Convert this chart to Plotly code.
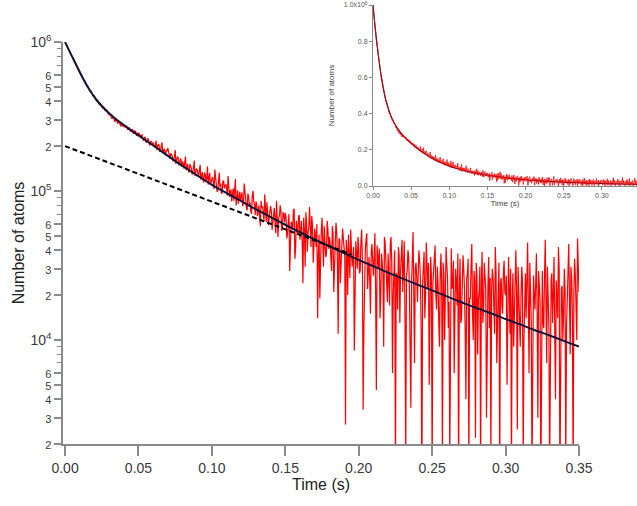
import plotly.graph_objects as go

# ---- data (atoms in thousands) ----
# samples on the whole-millisecond grid: t = 0.000, 0.001, ... 0.350 s
atoms_ms_thousands = [
    998, 958, 902, 873, 822, 797, 749, 726, 681, 662,
    635, 594, 583, 546, 538, 503, 495, 466, 461, 436,
    433, 409, 407, 385, 386, 366, 368, 350, 351, 335,
    322, 318, 305, 312, 291, 296, 283, 290, 271, 276,
    279, 266, 270, 258, 263, 249, 257, 244, 251, 236,
    241, 229, 236, 221, 227, 214, 222, 218, 205, 213,
    210, 197, 218, 199, 203, 186, 212, 190, 183, 189,
    194, 168, 179, 171, 162, 188, 163, 168, 151, 162,
    158, 141, 170, 149, 136, 151, 142, 133, 160, 139,
    139, 124, 150, 131, 118, 133, 116, 146, 123, 110,
    121, 107, 139, 114, 101, 133, 112, 97, 116, 108,
    104, 126, 91, 102, 99, 86, 120, 95, 82, 99,
    95, 79, 112, 88, 74, 92, 84, 70, 100, 81,
    85, 68, 80, 58, 77, 71, 95, 62, 74, 66,
    79, 55, 71, 63, 86, 49, 68, 74, 57, 70,
    71, 48, 64, 29, 62, 55, 76, 41, 58, 67,
    47, 63, 24, 55, 72, 39, 57, 50, 68, 33,
    56, 42, 14, 51, 47, 66, 31, 49, 38, 55,
    49, 36, 58, 21, 44, 53, 11, 47, 39, 56,
    44, 2.7, 40, 51, 26, 43, 35, 8.5, 46, 30,
    41, 29, 55, 3.4, 38, 47, 22, 36, 15, 44,
    27, 52, 4.6, 35, 41, 19, 33, 9, 45, 24,
    38, 17, 49, 6, 31, 1.2, 27, 42, 13, 35,
    21, 46, 1.5, 29, 37, 11, 24, 53, 7, 33,
    18, 40, 26, 0.8, 31, 14, 45, 22, 5, 36,
    1.1, 29, 43, 16, 24, 9, 38, 1.4, 27, 19,
    32, 12, 1.6, 41, 23, 6, 30, 17, 1.0, 35,
    14, 37, 22, 4, 28, 1.3, 19, 44, 10, 25,
    33, 8, 21, 1.2, 39, 16, 27, 3, 24, 12,
    1.5, 30, 18, 42, 7, 22, 1.1, 26, 15, 34,
    20, 5, 36, 11, 1.3, 28, 17, 40, 2.5, 19,
    9, 31, 1.4, 24, 14, 45, 6, 21, 1.2, 27,
    16, 38, 3, 23, 1.0, 29, 12, 47, 7, 20,
    1.3, 25, 13, 36, 4, 18, 42, 1.1, 22, 10,
    30, 1.5, 17, 44, 8, 26, 1.2, 35, 14, 48,
    21,
]
# samples on the half-millisecond grid: t = 0.0005, 0.0015, ... 0.3495 s
atoms_half_ms_thousands = [
    972, 936, 883, 852, 803, 779, 731, 710, 666, 647,
    609, 595, 558, 549, 514, 505, 476, 470, 443, 438,
    425, 402, 401, 380, 381, 361, 364, 346, 347, 331,
    331, 312, 317, 299, 306, 288, 294, 279, 286, 270,
    268, 275, 259, 267, 252, 260, 243, 253, 238, 246,
    244, 226, 238, 219, 231, 211, 225, 204, 216, 209,
    206, 201, 189, 205, 183, 197, 179, 192, 174, 185,
    184, 164, 175, 158, 170, 152, 169, 149, 165, 146,
    153, 150, 138, 152, 133, 146, 129, 144, 126, 141,
    126, 138, 119, 134, 114, 129, 121, 110, 132, 117,
    124, 103, 118, 99, 121, 106, 96, 117, 104, 111,
    93, 108, 100, 85, 104, 97, 80, 101, 93, 86,
    98, 83, 91, 77, 96, 80, 73, 93, 85, 69,
    82, 73, 66, 86, 79, 63, 76, 84, 59, 75,
    73, 61, 77, 52, 69, 66, 80, 54, 72, 62,
    66, 52, 70, 44, 60, 74, 35, 63, 51, 69,
    58, 44, 66, 31, 61, 53, 78, 42, 59, 46,
    51, 60, 37, 19, 54, 44, 58, 36, 63, 41,
    45, 29, 52, 40, 61, 33, 48, 24, 43, 50,
    36, 47, 20, 39, 55, 31, 42, 17, 38, 49,
    28, 46, 33, 12, 41, 52, 30, 25, 39, 34,
    36, 21, 43, 30, 14, 38, 27, 49, 31, 18,
    25, 44, 33, 20, 40, 28, 16, 37, 29, 47,
    32, 14, 27, 40, 22, 3.5, 35, 19, 30, 26,
    28, 34, 12, 24, 39, 20, 30, 33, 17, 27,
    24, 35, 20, 31, 13, 28, 22, 33, 10, 42,
    26, 18, 29, 22, 34, 15, 25, 38, 21, 13,
    23, 30, 11, 26, 35, 19, 32, 15, 29, 2.2,
    27, 19, 31, 24, 13, 33, 22, 18, 36, 26,
    22, 26, 11, 29, 20, 33, 24, 17, 28, 21,
    27, 14, 23, 30, 18, 9, 25, 21, 31, 15,
    19, 25, 10, 28, 22, 17, 33, 13, 24, 20,
    24, 15, 29, 18, 21, 13, 26, 19, 31, 12,
    17, 28, 20, 11, 25, 14, 30, 19, 23, 15,
    22, 12, 26, 19, 31, 15, 21, 27, 10, 24,
]
sample_step_s = 0.001

time_s = []
atoms = []
for i, v in enumerate(atoms_ms_thousands):
    time_s.append(round(i * sample_step_s, 4))
    atoms.append(v * 1000)
    if i < len(atoms_half_ms_thousands):
        time_s.append(round((i + 0.5) * sample_step_s, 4))
        atoms.append(atoms_half_ms_thousands[i] * 1000)

# ---- fit curve ----
fit_time_s = [0, 0.0025, 0.005, 0.0075, 0.01, 0.0125, 0.015, 0.0175, 0.02, 0.0225,
              0.025, 0.0275, 0.03, 0.035, 0.04, 0.045, 0.05, 0.06, 0.07, 0.08,
              0.09, 0.10, 0.11, 0.12, 0.13, 0.14, 0.15, 0.16, 0.17, 0.18,
              0.19, 0.20, 0.21, 0.22, 0.23, 0.24, 0.25, 0.26, 0.27, 0.28,
              0.29, 0.30, 0.31, 0.32, 0.33, 0.34, 0.35]
fit_atoms = [1000000, 889000, 791000, 703000, 627000, 562000, 508000, 463000, 427000, 396000,
             372000, 351000, 333000, 302000, 277000, 255000, 236000, 202000, 172000, 147000,
             127000, 110000, 96800, 85300, 75300, 66700, 59300, 52800, 47300, 42500,
             38200, 34400, 31200, 28300, 25800, 23500, 21500, 19600, 17900, 16400,
             15100, 13800, 12700, 11600, 10700, 9820, 9020]

# ---- dashed line (slow component) ----
dash_time_s = [0.0, 0.195]
dash_atoms = [200000, 37500]

# ---- tick labels ----
decades = [1e3, 1e4, 1e5, 1e6]
y_major_vals = []
y_major_text = []
y_minor_vals = []
for d in decades:
    for m in [2, 3, 4, 5, 6]:
        if 2000 <= m * d <= 1e6:
            y_major_vals.append(m * d)
            y_major_text.append('<span style="font-size:11px">%d</span>' % m)
    for m in [7, 8, 9]:
        if 2000 <= m * d <= 1e6:
            y_minor_vals.append(m * d)
for d, e in [(1e4, 4), (1e5, 5), (1e6, 6)]:
    y_major_vals.append(d)
    y_major_text.append('10<sup>%d</sup>' % e)

x_ticks = [0.00, 0.05, 0.10, 0.15, 0.20, 0.25, 0.30, 0.35]
x_tick_text = ['%.2f' % v for v in x_ticks]

inset_y_ticks = [0, 200000, 400000, 600000, 800000, 1000000]
inset_y_text = ['0.0', '0.2', '0.4', '0.6', '0.8', '1.0x10<sup>6</sup>']

RED = '#ff0000'
FIT = '#14143c'
AXIS = '#8a8a8a'
TXT = '#3a3a3a'

fig = go.Figure()

# main plot
fig.add_trace(go.Scatter(x=time_s, y=atoms, mode='lines',
                         line=dict(color=RED, width=1.2), xaxis='x', yaxis='y'))
fig.add_trace(go.Scatter(x=fit_time_s, y=fit_atoms, mode='lines',
                         line=dict(color=FIT, width=2, shape='spline', smoothing=0.6),
                         xaxis='x', yaxis='y'))
fig.add_trace(go.Scatter(x=dash_time_s, y=dash_atoms, mode='lines',
                         line=dict(color='black', width=2, dash='5px,3px'), xaxis='x', yaxis='y'))

# inset
fig.add_trace(go.Scatter(x=fit_time_s, y=fit_atoms, mode='lines',
                         line=dict(color=FIT, width=1.2, shape='spline', smoothing=0.6),
                         xaxis='x2', yaxis='y2'))
fig.add_trace(go.Scatter(x=time_s, y=atoms, mode='lines',
                         line=dict(color=RED, width=0.9), xaxis='x2', yaxis='y2', opacity=0.9))
# last inset tick label, partly beyond the page edge as in the reference
fig.add_trace(go.Scatter(x=[0.35], y=[0], mode='text', text=['0.35'],
                         textposition='bottom center', cliponaxis=False,
                         textfont=dict(size=7, color='#555'), xaxis='x2', yaxis='y2'))

W, H = 637, 506
main_l, main_r, main_t, main_b = 63, 579, 42, 444
ins_l, ins_r, ins_t, ins_b = 373, 637, 5, 186

fig.update_layout(
    width=W, height=H,
    margin=dict(l=0, r=0, t=0, b=0, autoexpand=False),
    paper_bgcolor='white', plot_bgcolor='rgba(0,0,0,0)',
    showlegend=False,
    font=dict(family='Liberation Sans, Arial, sans-serif', color=TXT),
    xaxis=dict(
        domain=[main_l / W, main_r / W],
        range=[-0.0014, 0.35],
        tickvals=x_ticks, ticktext=x_tick_text,
        ticks='outside', ticklen=10, tickwidth=1.5, tickcolor=AXIS,
        showline=True, linecolor=AXIS, linewidth=1.5,
        showgrid=False, zeroline=False, automargin=False,
        tickfont=dict(size=14, color=TXT),
        title=dict(text='Time (s)', font=dict(size=16, color='#222'), standoff=4),
        anchor='y',
    ),
    yaxis=dict(
        domain=[1 - main_b / H, 1 - main_t / H],
        type='log',
        range=[3.30103, 6.0],
        tickvals=y_major_vals, ticktext=y_major_text,
        ticks='outside', ticklen=7, tickwidth=1.5, tickcolor=AXIS,
        minor=dict(tickvals=y_minor_vals, ticks='outside', ticklen=4,
                   tickwidth=1.2, tickcolor=AXIS, showgrid=False),
        showline=True, linecolor=AXIS, linewidth=1.5,
        showgrid=False, zeroline=False, automargin=False,
        tickfont=dict(size=14, color=TXT),
        title=dict(text='Number of atoms', font=dict(size=16, color='#222'), standoff=2),
        anchor='x',
    ),
    xaxis2=dict(
        domain=[ins_l / W, ins_r / W],
        range=[0, 0.35 * (ins_r - ins_l) / (640 - ins_l)],
        tickvals=x_ticks, ticktext=x_tick_text,
        ticks='outside', ticklen=3, tickwidth=1, tickcolor=AXIS,
        showline=True, linecolor=AXIS, linewidth=1,
        showgrid=False, zeroline=False, automargin=False,
        tickfont=dict(size=7, color='#555'),
        title=dict(text='Time (s)', font=dict(size=8, color='#444'), standoff=1),
        anchor='y2',
    ),
    yaxis2=dict(
        domain=[1 - ins_b / H, 1 - ins_t / H],
        range=[0, 1000000],
        tickvals=inset_y_ticks, ticktext=inset_y_text,
        ticks='outside', ticklen=3, tickwidth=1, tickcolor=AXIS,
        showline=True, linecolor=AXIS, linewidth=1,
        showgrid=False, zeroline=False, automargin=False,
        tickfont=dict(size=7, color='#555'),
        title=dict(text='Number of atoms', font=dict(size=8, color='#444'), standoff=8),
        anchor='x2',
    ),
)

# remove the browser's default 8px page margin so the figure sits at the window corner
fig.write_html('out.html', config={'displayModeBar': False},
               post_script="document.body.style.margin='0';")
